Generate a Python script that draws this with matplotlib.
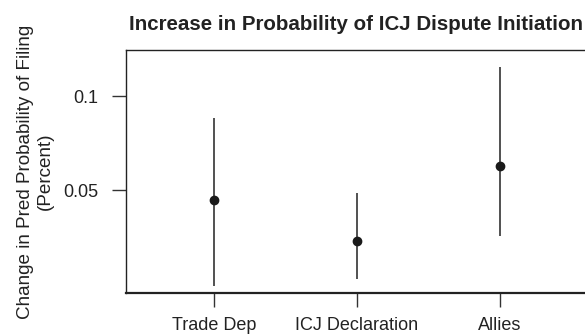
import matplotlib
matplotlib.use("Agg")
import matplotlib.pyplot as plt

plt.rcParams['font.family'] = ['Liberation Sans', 'DejaVu Sans']

labels = ["Trade Dep", "ICJ Declaration", "Allies"]
estimate = [0.0447, 0.0229, 0.0628]
lower = [-0.0011, 0.0027, 0.0255]
upper = [0.0883, 0.0484, 0.1154]

fig = plt.figure(figsize=(5.85, 3.35), dpi=100)
ax = fig.add_axes([126/585, 1 - 293/335, 462/585, 243/335])

pos = range(1, len(labels) + 1)
ax.vlines(pos, lower, upper, color="#333333", lw=1.2)
ax.plot(pos, estimate, "o", color="#1a1a1a", ms=6)

ax.set_xlim(0.38, 3.62)
ax.set_ylim(-0.0048, 0.1245)
ax.set_xticks(list(pos))
ax.set_xticklabels(labels, fontsize=13, color="#222222")
ax.set_yticks([0.05, 0.1])
ax.set_yticklabels(["0.05", "0.1"], fontsize=13, color="#222222")
ax.tick_params(direction="out", length=10, width=1, color="#333333")
ax.tick_params(axis="x", pad=7)
ax.tick_params(axis="y", pad=10)

for s in ax.spines.values():
    s.set_color("#222222")
    s.set_linewidth(1)
ax.spines["bottom"].set_linewidth(1.6)

ax.set_ylabel("Change in Pred Probability of Filing\n(Percent)", fontsize=13.6,
              color="#222222")
ax.yaxis.set_label_coords(-0.156, 0.5)
fig.text(356/585, 1 - 25/335, "Increase in Probability of ICJ Dispute Initiation",
         ha="center", va="center", fontsize=14.8, fontweight="bold", color="#222222")

fig.savefig("out.png", dpi=100)
